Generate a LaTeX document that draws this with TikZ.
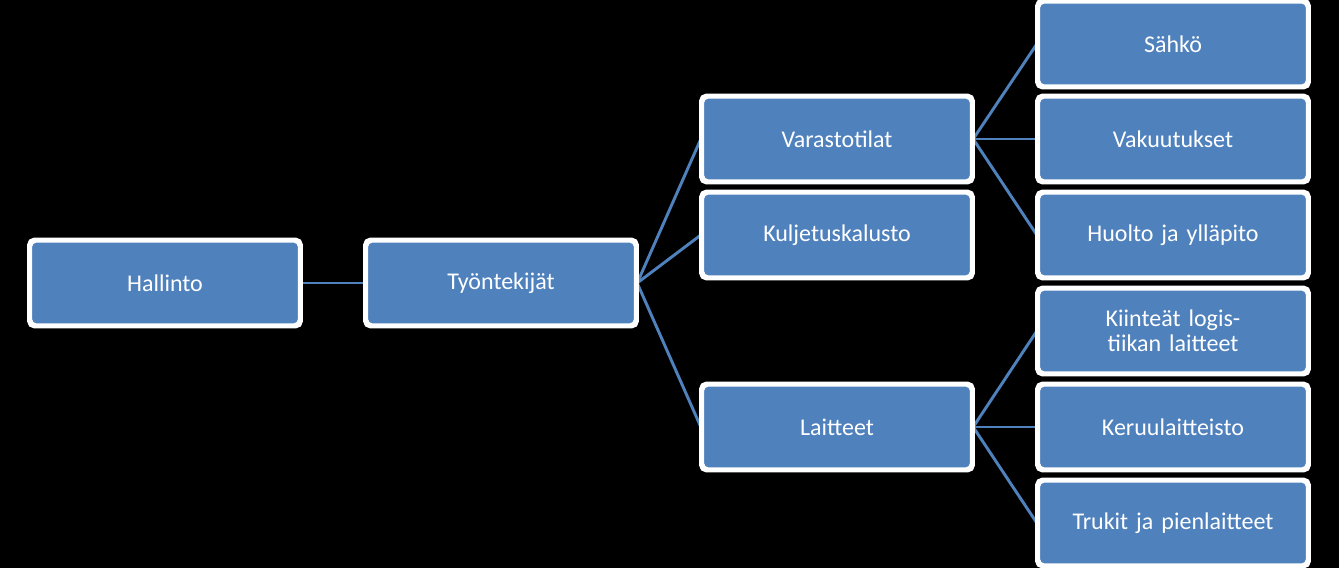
\documentclass[tikz,border=0pt]{standalone}
\usepackage{fontspec}
\setmainfont{Carlito}
\begin{document}
\begin{tikzpicture}[x=0.75pt,y=-0.75pt,
  box/.style={draw=white,line width=2.5pt,fill={rgb,255:red,79;green,129;blue,189},rounded corners=4pt,
    minimum width=269*0.75pt,minimum height=84*0.75pt,text width=240*0.75pt,align=center,
    text=white,font=\fontsize{18}{19}\selectfont,inner sep=0pt},
  link/.style={draw={rgb,255:red,79;green,129;blue,189},line width=2.2pt}]
\fill[black] (0,0) rectangle (1339,568);
\useasboundingbox (0,0) rectangle (1339,568);
\node[box] (h) at (165,283) {Hallinto};
\node[box] (t) at (501,283) {Työntekijät};
\node[box] (v) at (837,139) {Varastotilat};
\node[box] (k) at (837,235) {Kuljetuskalusto};
\node[box] (l) at (837,427) {Laitteet};
\node[box] (s) at (1173,44) {Sähkö};
\node[box] (va) at (1173,139) {Vakuutukset};
\node[box] (hu) at (1173,235) {Huolto ja ylläpito};
\node[box] (ki) at (1173,331) {Kiinteät logistiikan laitteet};
\node[box] (ke) at (1173,427) {Keruulaitteisto};
\node[box] (tr) at (1173,523) {Trukit ja pienlaitteet};
\begin{scope}[on background layer/.style={}]
\foreach \a/\b in {h/t,t/v,t/k,t/l,v/s,v/va,v/hu,l/ki,l/ke,l/tr}
  \draw[link] (\a.east) -- (\b.west);
\end{scope}
\foreach \n in {h,t,v,k,l,s,va,hu,ki,ke,tr}
  \draw[draw=white,line width=2.5pt,rounded corners=4pt] (\n.south west) rectangle (\n.north east);
\end{tikzpicture}
\end{document}
